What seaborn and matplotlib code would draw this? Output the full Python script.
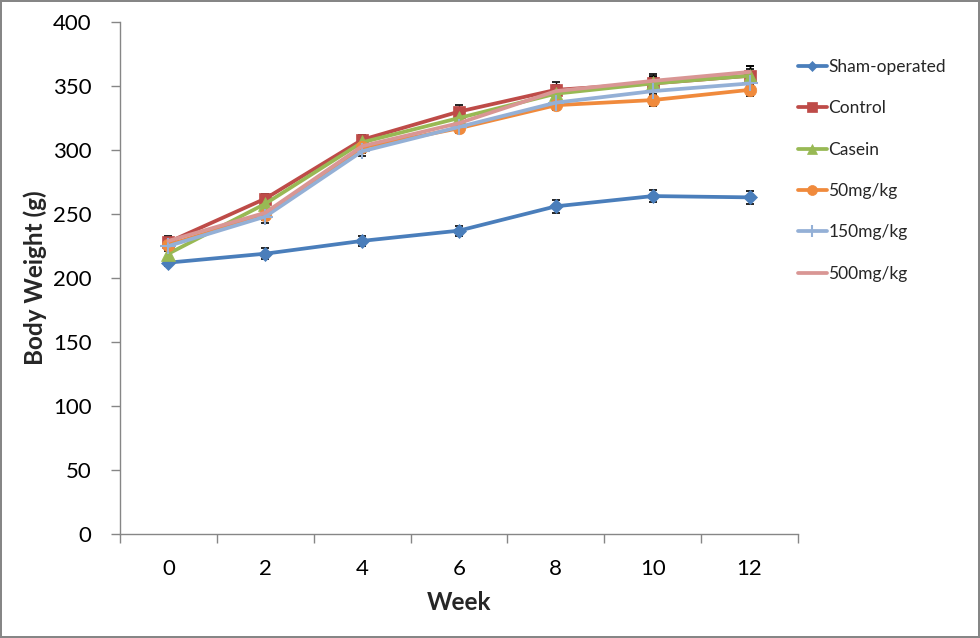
import numpy as np
import pandas as pd
import matplotlib
matplotlib.use("Agg")
import matplotlib.pyplot as plt
import seaborn as sns
from matplotlib.ticker import FixedLocator
from matplotlib.lines import Line2D

weeks = ["0", "2", "4", "6", "8", "10", "12"]
series_names = ["Sham-operated", "Control", "Casein", "50mg/kg", "150mg/kg", "500mg/kg"]
sham = [212, 219, 229, 237, 256, 264, 263]
control = [228, 262, 308, 330, 347, 352, 358]
casein = [219, 258, 306, 325, 344, 352, 358]
mg50 = [226, 249, 302, 317, 335, 339, 347]
mg150 = [225, 248, 299, 318, 337, 346, 352]
mg500 = [229, 251, 303, 321, 346, 354, 361]
sham_err = [3, 4.5, 4, 4, 5, 5, 5]
control_err = [4, 4, 4, 5, 6.5, 6, 7.5]
casein_err = [4, 4, 4, 4, 5, 5, 5]
mg50_err = [4, 4, 4, 4, 4, 4.5, 5]
mg150_err = [4, 5, 4, 4, 4, 4, 5]
mg500_err = [4, 4, 4, 4, 5, 5, 5]

values = [sham, control, casein, mg50, mg150, mg500]
errors = [sham_err, control_err, casein_err, mg50_err, mg150_err, mg500_err]
colors = ["#4A7EBB", "#BE4B48", "#98B954", "#F08A3C", "#94B0D6", "#D99694"]
markers = ["D", "s", "^", "o", "+", ""]
msizes = [7, 8.5, 9.5, 9, 11, 0]

rows = []
for name, vals in zip(series_names, values):
    for i, v in enumerate(vals):
        rows.append({"pos": i, "week": weeks[i], "weight": v, "group": name})
df = pd.DataFrame(rows)

sns.set_theme(style="white")
plt.rcParams["font.family"] = ["Lato", "DejaVu Sans"]

fig = plt.figure(figsize=(9.8, 6.38), dpi=100)
ax = fig.add_axes([120/980, 104/638, 678/980, 512/638])

for k, (name, vals, errs, c, m, ms) in enumerate(zip(series_names, values, errors, colors, markers, msizes)):
    sub = df[df["group"] == name]
    ax.errorbar(sub["pos"], sub["weight"], yerr=errs, fmt="none", ecolor="black",
                elinewidth=1, capsize=3, capthick=1.2, zorder=2)
    sns.lineplot(data=sub, x="pos", y="weight", ax=ax, color=c, linewidth=2.7,
                 marker=m if m else None, markersize=ms, markeredgecolor=c,
                 markeredgewidth=1.5 if m == "+" else 0.5, zorder=3 + k * 0.1,
                 legend=False)

ax.set_xlim(-0.5, 6.5)
ax.set_ylim(0, 400)
ax.set_yticks(np.arange(0, 401, 50))
ax.set_xticks(range(len(weeks)))
ax.set_xticklabels(weeks)
ax.xaxis.set_minor_locator(FixedLocator(np.arange(-0.5, 6.6, 1)))
ax.tick_params(axis="x", which="major", length=0, labelsize=16, pad=18, colors="black")
ax.tick_params(axis="x", which="minor", length=6.5, width=1, color="#868686", direction="out", bottom=True)
ax.tick_params(axis="y", which="major", length=6.5, width=1, color="#868686", direction="out",
               labelsize=16, pad=14, left=True, labelcolor="black")
for s in ["top", "right"]:
    ax.spines[s].set_visible(False)
for s in ["left", "bottom"]:
    ax.spines[s].set_color("#868686")
    ax.spines[s].set_linewidth(1)

ax.set_xlabel("Week", fontsize=17.5, fontweight="bold", labelpad=9)
ax.set_ylabel("Body Weight (g)", fontsize=17.5, fontweight="bold", labelpad=4)

handles = []
for name, c, m, ms in zip(series_names, colors, markers, msizes):
    handles.append(Line2D([0], [0], color=c, linewidth=2.7, marker=m if m else None,
                          markersize=ms * 0.8, markeredgecolor=c,
                          markeredgewidth=1.5 if m == "+" else 0.5))
fig.legend(handles, series_names, loc="upper left", bbox_to_anchor=(791/980, 1 - 52/638),
           frameon=False, fontsize=12.5, labelspacing=1.46, handlelength=1.66,
           handletextpad=0.08, borderaxespad=0)

fig.patch.set_edgecolor("#868686")
fig.patch.set_linewidth(1.5)
fig.savefig("out.png", dpi=100, edgecolor=fig.get_edgecolor())
